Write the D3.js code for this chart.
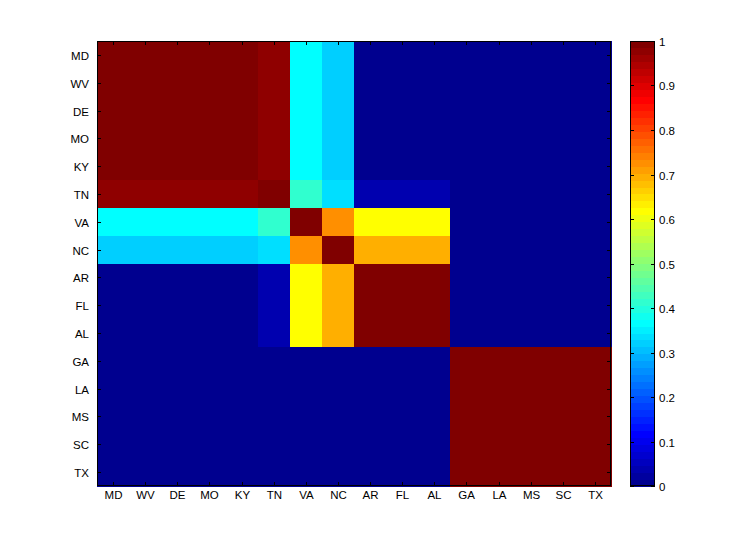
<!DOCTYPE html>
<html><head><meta charset="utf-8">
<script src="https://cdn.jsdelivr.net/npm/d3@7"></script>
<style>body{margin:0;background:#fff}svg{display:block}text{font-family:"Liberation Sans",Arial,sans-serif;font-size:11.5px;fill:#000}</style>
</head><body>
<svg id="c" width="746" height="545"></svg>
<script>
const states = ["MD","WV","DE","MO","KY","TN","VA","NC","AR","FL","AL","GA","LA","MS","SC","TX"];
const matrix = [
  [1,1,1,1,1,0.97,0.37,0.32,0,0,0,0,0,0,0,0],
  [1,1,1,1,1,0.97,0.37,0.32,0,0,0,0,0,0,0,0],
  [1,1,1,1,1,0.97,0.37,0.32,0,0,0,0,0,0,0,0],
  [1,1,1,1,1,0.97,0.37,0.32,0,0,0,0,0,0,0,0],
  [1,1,1,1,1,0.97,0.37,0.32,0,0,0,0,0,0,0,0],
  [0.97,0.97,0.97,0.97,0.97,1,0.42,0.34,0.04,0.04,0.04,0,0,0,0,0],
  [0.37,0.37,0.37,0.37,0.37,0.42,1,0.72,0.62,0.62,0.62,0,0,0,0,0],
  [0.32,0.32,0.32,0.32,0.32,0.34,0.72,1,0.70,0.70,0.70,0,0,0,0,0],
  [0,0,0,0,0,0.04,0.62,0.70,1,1,1,0,0,0,0,0],
  [0,0,0,0,0,0.04,0.62,0.70,1,1,1,0,0,0,0,0],
  [0,0,0,0,0,0.04,0.62,0.70,1,1,1,0,0,0,0,0],
  [0,0,0,0,0,0,0,0,0,0,0,1,1,1,1,1],
  [0,0,0,0,0,0,0,0,0,0,0,1,1,1,1,1],
  [0,0,0,0,0,0,0,0,0,0,0,1,1,1,1,1],
  [0,0,0,0,0,0,0,0,0,0,0,1,1,1,1,1],
  [0,0,0,0,0,0,0,0,0,0,0,1,1,1,1,1]
];
const cbTicks = [0,0.1,0.2,0.3,0.4,0.5,0.6,0.7,0.8,0.9,1];

// MATLAB jet(64)
function jet(m){
  const n = Math.ceil(m/4);
  const u = [];
  for(let i=1;i<=n;i++) u.push(i/n);
  for(let i=1;i<n;i++) u.push(1);
  for(let i=n;i>=1;i--) u.push(i/n);
  const off = Math.ceil(n/2) - (m%4===1?1:0);
  const R=new Array(m).fill(0),G=new Array(m).fill(0),B=new Array(m).fill(0);
  u.forEach((val,k)=>{
    const g = off + k + 1, r = g + n, b = g - n;
    if(g>=1&&g<=m) G[g-1]=val;
    if(r>=1&&r<=m) R[r-1]=val;
    if(b>=1&&b<=m) B[b-1]=val;
  });
  return d3.range(m).map(i=>d3.rgb(R[i]*255,G[i]*255,B[i]*255).formatHex());
}
const cmap = jet(64);
const colorOf = v => cmap[Math.min(63, Math.floor(v*64))];

const svg = d3.select("#c");
const L=97, T=41, R=611, Bm=486;
const x = d3.scaleBand().domain(states).range([L,R]);
const y = d3.scaleBand().domain(states).range([T,Bm]);

const g = svg.append("g");
matrix.forEach((row,i)=>row.forEach((v,j)=>{
  g.append("rect").attr("x",x(states[j])).attr("y",y(states[i]))
   .attr("width",x.bandwidth()+0.5).attr("height",y.bandwidth()+0.5)
   .attr("fill",colorOf(v)).attr("shape-rendering","crispEdges");
}));

const tl = 4;
states.forEach(s=>{
  const cx = Math.round(x(s)+x.bandwidth()/2)+0.5;
  const cy = Math.round(y(s)+y.bandwidth()/2)+0.5;
  svg.append("line").attr("x1",cx).attr("x2",cx).attr("y1",Bm).attr("y2",Bm-tl).attr("stroke","#000");
  svg.append("line").attr("x1",cx).attr("x2",cx).attr("y1",T).attr("y2",T+tl).attr("stroke","#000");
  svg.append("line").attr("y1",cy).attr("y2",cy).attr("x1",L).attr("x2",L+tl).attr("stroke","#000");
  svg.append("line").attr("y1",cy).attr("y2",cy).attr("x1",R).attr("x2",R-tl).attr("stroke","#000");
  svg.append("text").attr("x",cx).attr("y",Bm+13).attr("text-anchor","middle").text(s);
  svg.append("text").attr("x",L-8).attr("y",cy+4).attr("text-anchor","end").text(s);
});
svg.append("rect").attr("x",L+0.5).attr("y",T+0.5).attr("width",R-L-1).attr("height",Bm-T-1)
  .attr("fill","none").attr("stroke","#000");

// colorbar
const CL=630, CR=655;
const cy = d3.scaleLinear().domain([0,1]).range([Bm,T]);
cmap.forEach((c,i)=>{
  svg.append("rect").attr("x",CL).attr("width",CR-CL)
    .attr("y",cy((i+1)/64)).attr("height",cy(i/64)-cy((i+1)/64)+0.5)
    .attr("fill",c).attr("shape-rendering","crispEdges");
});
cbTicks.forEach(t=>{
  const yy = Math.round(cy(t))+0.5;
  svg.append("line").attr("x1",CR).attr("x2",CR-tl).attr("y1",yy).attr("y2",yy).attr("stroke","#000");
  svg.append("line").attr("x1",CL).attr("x2",CL+tl).attr("y1",yy).attr("y2",yy).attr("stroke","#000");
  svg.append("text").attr("x",CR+4).attr("y",yy+4).text(d3.format("")(t));
});
svg.append("rect").attr("x",CL+0.5).attr("y",T+0.5).attr("width",CR-CL-1).attr("height",Bm-T-1)
  .attr("fill","none").attr("stroke","#000");
</script>
</body></html>
